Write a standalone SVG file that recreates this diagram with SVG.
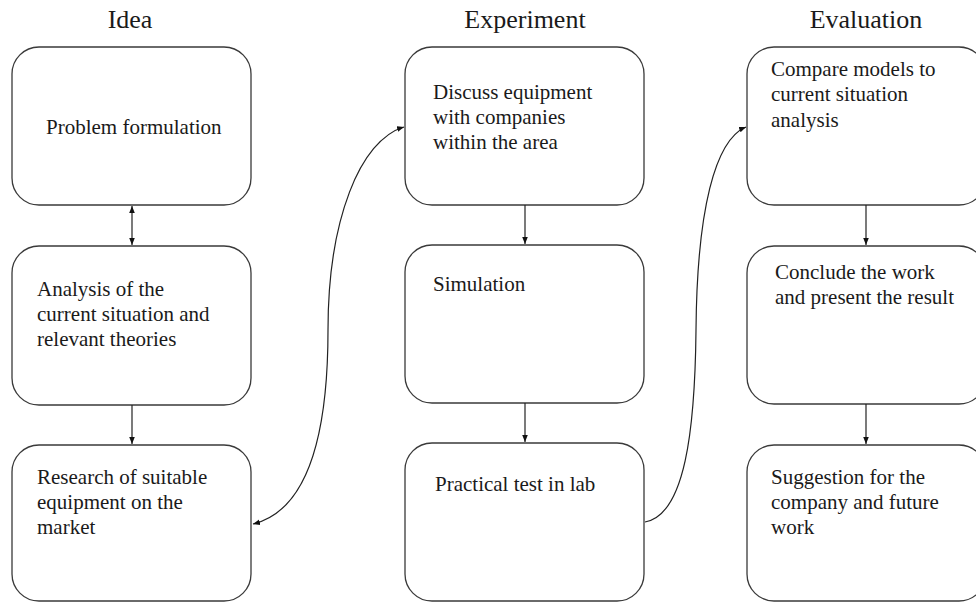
<svg xmlns="http://www.w3.org/2000/svg" width="976" height="602" viewBox="0 0 976 602">
<style>
.box{fill:#fff;stroke:#3a3a3a;stroke-width:1.3}
.t{font-family:"Liberation Serif","Times New Roman",serif;font-size:21px;fill:#1a1a1a}
.h{font-family:"Liberation Serif","Times New Roman",serif;font-size:26px;fill:#1a1a1a}
.c{fill:none;stroke:#222;stroke-width:1.2}
</style>
<defs>
<marker id="ah" viewBox="0 0 10 10" refX="10" refY="5" markerWidth="7" markerHeight="7" markerUnits="userSpaceOnUse" orient="auto-start-reverse">
<path d="M0,1 L10,5 L0,9 Z" fill="#111"/>
</marker>
</defs>
<rect width="976" height="602" fill="#fff"/>
<g id="titles">
<text class="h" x="130" y="28" text-anchor="middle">Idea</text>
<text class="h" x="525" y="28" text-anchor="middle">Experiment</text>
<text class="h" x="866" y="28" text-anchor="middle">Evaluation</text>
</g>
<g id="n1"><rect class="box" x="12" y="47" width="239" height="158" rx="27"/>
<text class="t" x="46" y="134">Problem formulation</text></g>
<g id="n2"><rect class="box" x="12" y="246" width="239" height="159" rx="27"/>
<text class="t" x="37" y="296">Analysis of the</text>
<text class="t" x="37" y="321">current situation and</text>
<text class="t" x="37" y="346">relevant theories</text></g>
<g id="n3"><rect class="box" x="12" y="445" width="239" height="156" rx="27"/>
<text class="t" x="37" y="484">Research of suitable</text>
<text class="t" x="37" y="509">equipment on the</text>
<text class="t" x="37" y="534">market</text></g>
<g id="n4"><rect class="box" x="405" y="47" width="239" height="158" rx="27"/>
<text class="t" x="433" y="99">Discuss equipment</text>
<text class="t" x="433" y="124">with companies</text>
<text class="t" x="433" y="149">within the area</text></g>
<g id="n5"><rect class="box" x="405" y="245" width="239" height="158" rx="27"/>
<text class="t" x="433" y="291">Simulation</text></g>
<g id="n6"><rect class="box" x="405" y="443" width="239" height="158" rx="27"/>
<text class="t" x="435" y="491">Practical test in lab</text></g>
<g id="n7"><rect class="box" x="747" y="47" width="239" height="158" rx="27"/>
<text class="t" x="771" y="76">Compare models to</text>
<text class="t" x="771" y="101">current situation</text>
<text class="t" x="771" y="127">analysis</text></g>
<g id="n8"><rect class="box" x="747" y="246" width="239" height="158" rx="27"/>
<text class="t" x="775" y="279">Conclude the work</text>
<text class="t" x="775" y="304">and present the result</text></g>
<g id="n9"><rect class="box" x="747" y="445" width="239" height="156" rx="27"/>
<text class="t" x="771" y="484">Suggestion for the</text>
<text class="t" x="771" y="509">company and future</text>
<text class="t" x="771" y="534">work</text></g>
<g id="connectors">
<line class="c" x1="132" y1="206" x2="132" y2="245" marker-start="url(#ah)" marker-end="url(#ah)"/>
<line class="c" x1="132" y1="405" x2="132" y2="444" marker-end="url(#ah)"/>
<line class="c" x1="525" y1="205" x2="525" y2="244" marker-end="url(#ah)"/>
<line class="c" x1="525" y1="403" x2="525" y2="442" marker-end="url(#ah)"/>
<line class="c" x1="866" y1="205" x2="866" y2="245" marker-end="url(#ah)"/>
<line class="c" x1="866" y1="404" x2="866" y2="444" marker-end="url(#ah)"/>
<path class="c" d="M253,524 C310,510 328,430 328,330 C328,220 360,140 404,127" marker-start="url(#ah)" marker-end="url(#ah)"/>
<path class="c" d="M645,522 C685,515 695,430 696,330 C697,210 715,140 746,127" marker-end="url(#ah)"/>
</g>
</svg>
